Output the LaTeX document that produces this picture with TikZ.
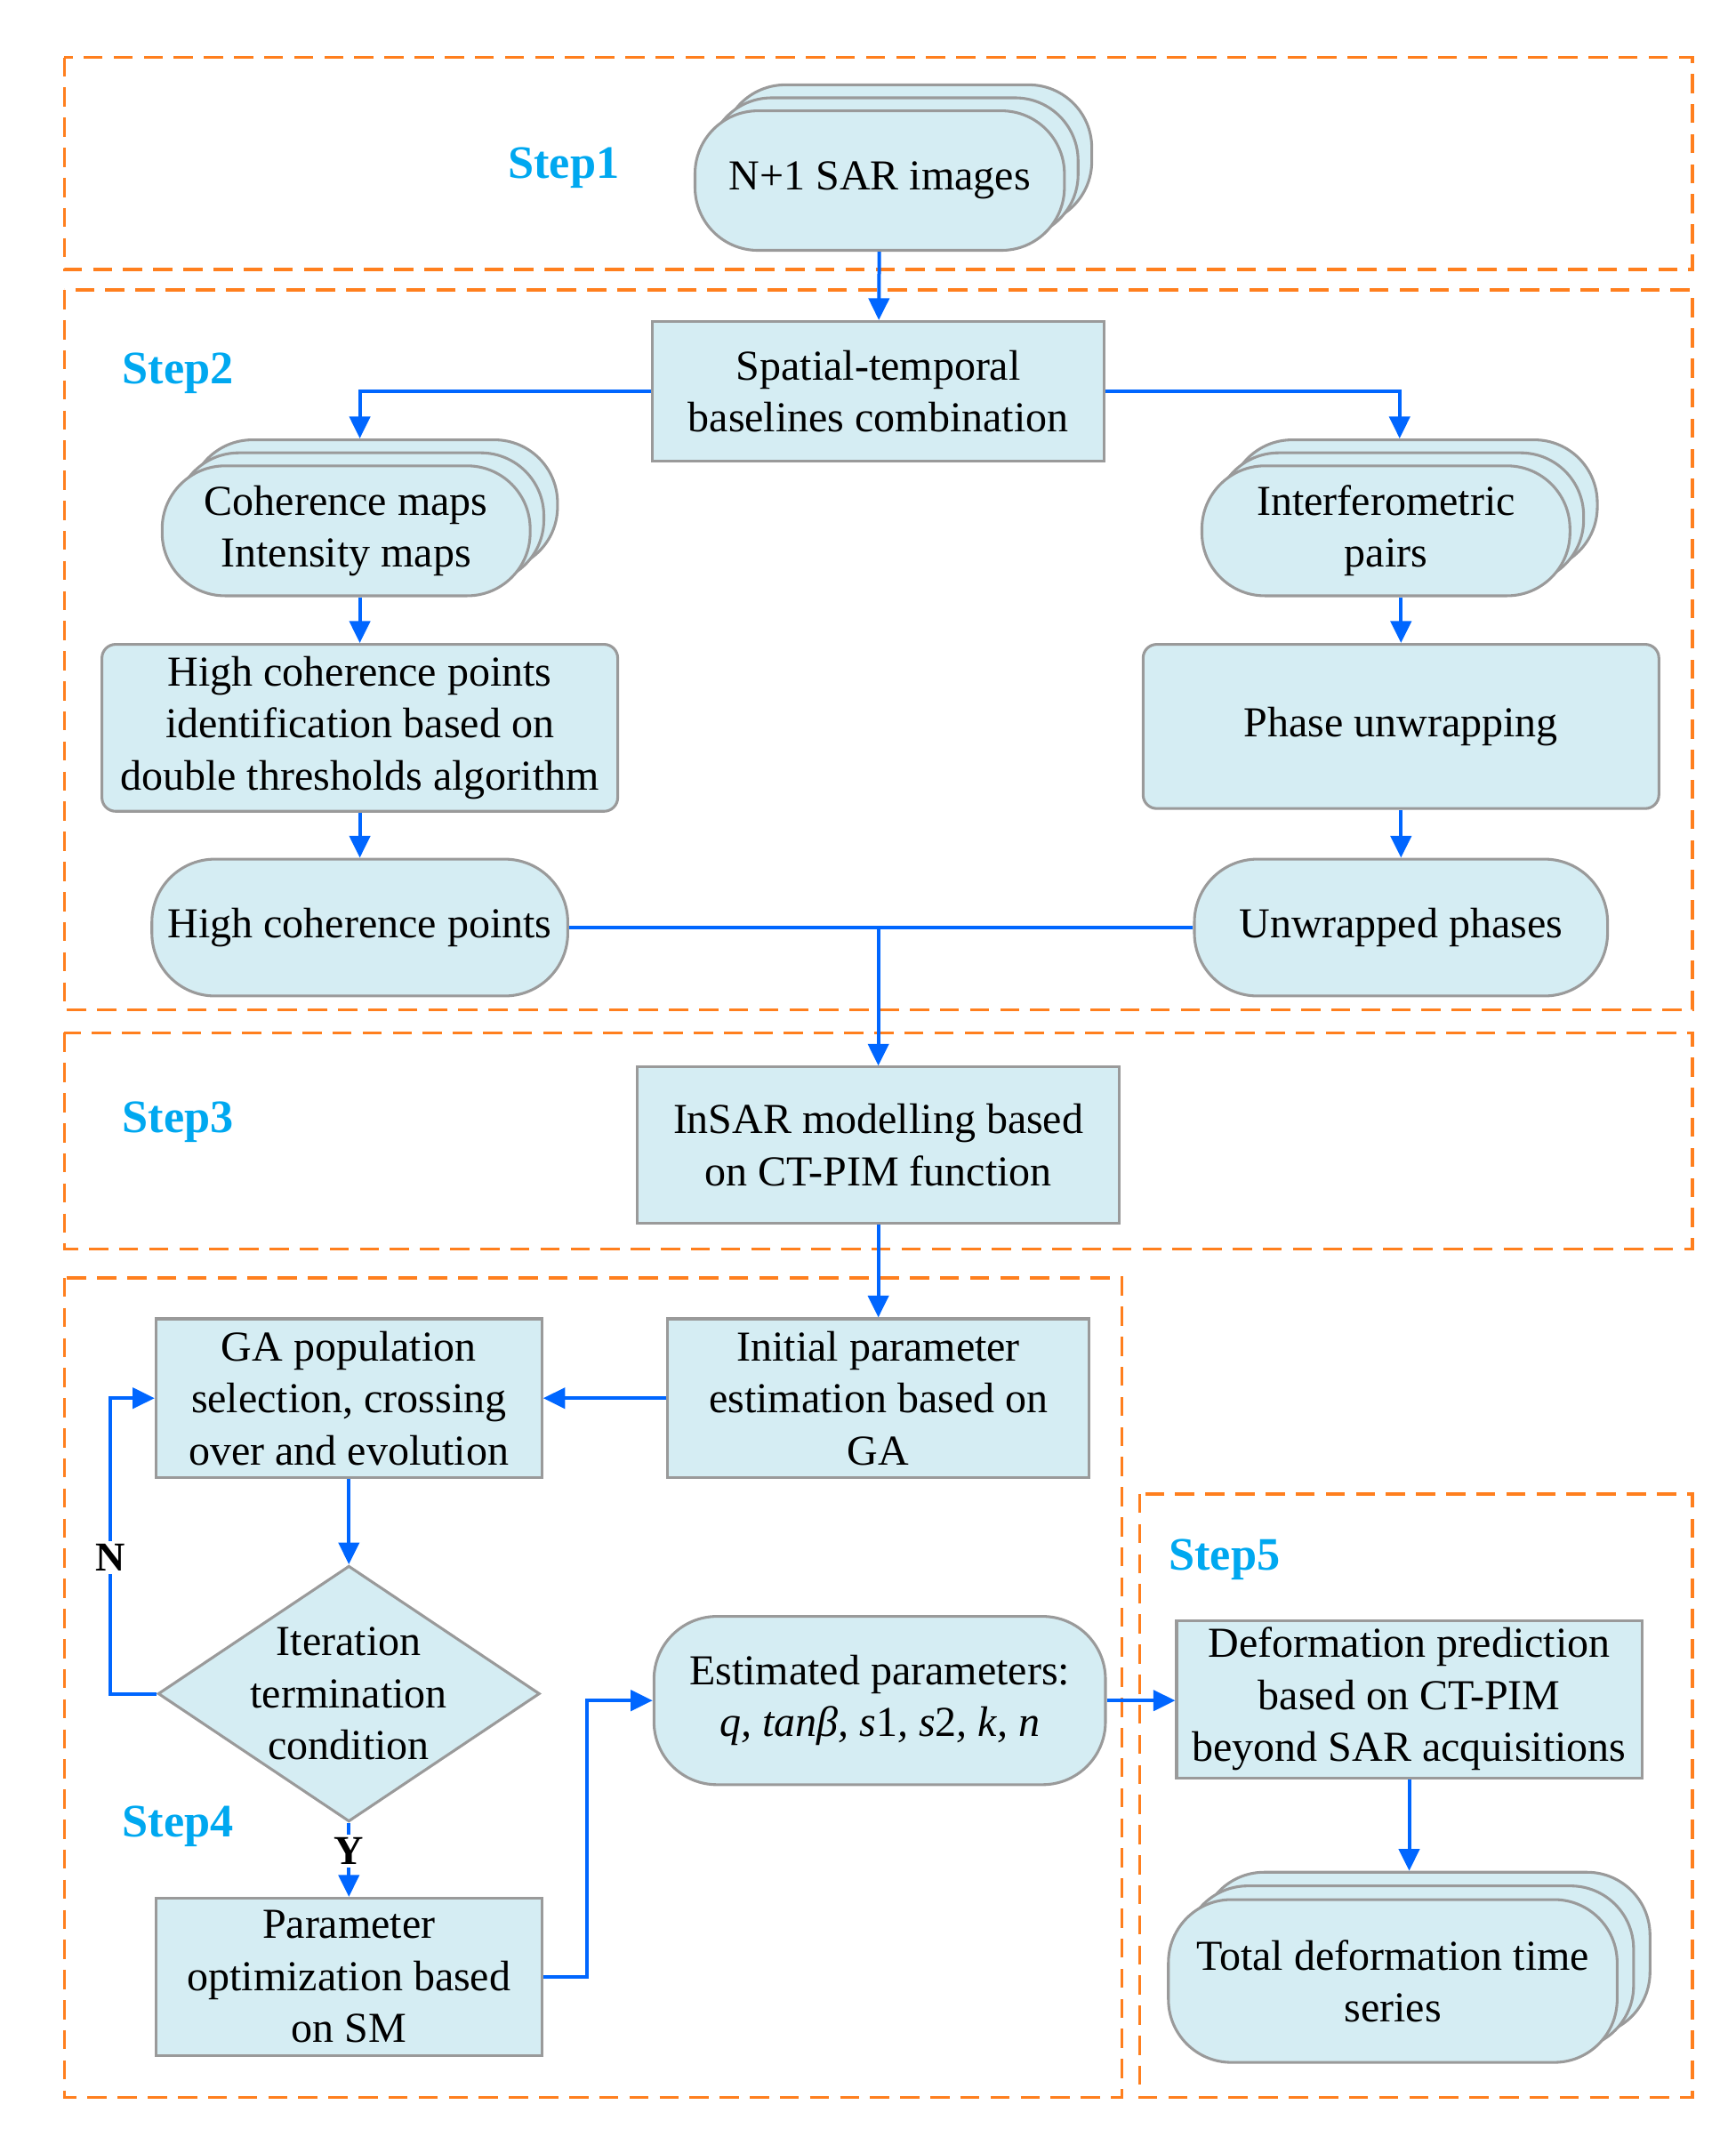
\documentclass[tikz,border=0pt]{standalone}
\usepackage{fontspec}
\setmainfont{Liberation Serif}
\usetikzlibrary{arrows.meta,shapes.geometric,shadows,calc}
\definecolor{boxfill}{HTML}{D5EDF3}
\definecolor{boxline}{HTML}{9A9A9A}
\definecolor{flowblue}{HTML}{0066FF}
\definecolor{stepblue}{HTML}{00A8F0}
\definecolor{dashorange}{HTML}{FF7F1E}
\begin{document}
\begin{tikzpicture}[
		x=0.5pt, y=-0.5pt,
		every node/.style={font=\fontsize{15.6}{19}\selectfont, align=center},
		box/.style={rectangle, draw=boxline, fill=boxfill, line width=1pt, inner sep=2pt},
		roundbox/.style={box, rounded corners=5pt},
		terminal/.style={box, rounded corners=23pt},
		stack/.style={terminal,
				copy shadow={shadow xshift=10pt, shadow yshift=9.5pt, draw=boxline, fill=boxfill},
				copy shadow={shadow xshift=5pt, shadow yshift=4.75pt, draw=boxline, fill=boxfill}},
		bigstack/.style={terminal,
				copy shadow={shadow xshift=12pt, shadow yshift=10pt, draw=boxline, fill=boxfill},
				copy shadow={shadow xshift=6pt, shadow yshift=5pt, draw=boxline, fill=boxfill}},
		decision/.style={diamond, draw=boxline, fill=boxfill, line width=1pt, inner sep=-2pt, shape aspect=1.5},
		flow/.style={draw=flowblue, line width=1.3pt, -{Triangle[length=8pt,width=7.5pt]}},
		link/.style={draw=flowblue, line width=1.3pt},
		steplabel/.style={font=\fontsize{17}{20}\selectfont\bfseries, text=stepblue},
		yesno/.style={font=\fontsize{15}{18}\selectfont\bfseries, fill=white, inner sep=1pt},
		frame/.style={draw=dashorange, line width=1.1pt, dash pattern=on 7pt off 4pt}
	]
	% step frames
	\draw[frame] (47,42) rectangle (1237,197);
	\draw[frame] (47,212) rectangle (1237,738);
	\draw[frame] (47,755) rectangle (1237,913);
	\draw[frame] (47,934) rectangle (820,1533);
	\draw[frame] (833,1092) rectangle (1237,1533);

	\node[steplabel] (step1) at (412,123) {Step1};
	\node[steplabel] (step2) at (130,273) {Step2};
	\node[steplabel] (step3) at (130,820) {Step3};
	\node[steplabel] (step4) at (130,1335) {Step4};
	\node[steplabel] (step5) at (895,1140) {Step5};

	% step 1 and 2
	\node[stack, minimum width=135pt, minimum height=51pt] (sar) at (643,132) {N+1 SAR images};
	\node[box, minimum width=165pt, minimum height=51pt] (stbase) at (642,286) {Spatial-temporal\\baselines combination};
	\node[stack, minimum width=134.5pt, minimum height=47.5pt] (cohmaps) at (253,388) {Coherence maps\\Intensity maps};
	\node[stack, minimum width=134.5pt, minimum height=47.5pt] (ifgpairs) at (1013,388) {Interferometric\\pairs};
	\node[roundbox, minimum width=188.5pt, minimum height=61pt] (hcident) at (263,532) {High coherence points\\identification based on\\double thresholds algorithm};
	\node[roundbox, minimum width=188.5pt, minimum height=60pt] (phunwrap) at (1024,531) {Phase unwrapping};
	\node[terminal, minimum width=152pt, minimum height=50pt] (hcpoints) at (263,678) {High coherence points};
	\node[terminal, minimum width=151pt, minimum height=50pt] (unwphase) at (1024,678) {Unwrapped phases};

	% step 3 and 4
	\node[box, minimum width=176pt, minimum height=57pt] (insar) at (642,837) {InSAR modelling based\\on CT-PIM function};
	\node[box, minimum width=154pt, minimum height=58pt] (initpar) at (642,1022) {Initial parameter\\estimation based on\\GA};
	\node[box, minimum width=141pt, minimum height=58pt] (gapop) at (255,1022) {GA population\\selection, crossing\\over and evolution};
	\node[decision, minimum width=139.5pt, minimum height=93.5pt] (iterterm) at (255,1238) {Iteration\\termination\\condition};
	\node[box, minimum width=141pt, minimum height=57.5pt] (paropt) at (255,1445) {Parameter\\optimization based\\on SM};
	\node[terminal, minimum width=165pt, minimum height=61.5pt] (estpar) at (643,1243) {Estimated parameters:\\\textit{q, tanβ, s}1\textit{, s}2\textit{, k, n}};

	% step 5
	\node[box, minimum width=170pt, minimum height=57.5pt] (defpred) at (1030,1242) {Deformation prediction\\based on CT-PIM\\beyond SAR acquisitions};
	\node[bigstack, minimum width=164pt, minimum height=59.5pt] (totdef) at (1018,1448) {Total deformation time\\series};

	\coordinate (cohtop) at ($(cohmaps.north)+(10,-19)$);
	\coordinate (ifgtop) at ($(ifgpairs.north)+(10,-19)$);
	\coordinate (tottop) at ($(totdef.north)+(0,-20)$);
	\coordinate (merge) at (insar.north |- hcpoints.east);

	\draw[flow] (sar) -- (stbase);
	\draw[flow] (stbase.west) -| (cohtop);
	\draw[flow] (stbase.east) -| (ifgtop);
	\draw[flow] (hcident.north |- cohmaps.south) -- (hcident.north);
	\draw[flow] (phunwrap.north |- ifgpairs.south) -- (phunwrap.north);
	\draw[flow] (hcident) -- (hcpoints);
	\draw[flow] (phunwrap) -- (unwphase);
	\draw[link] (hcpoints.east) -- (unwphase.west);
	\draw[flow] (merge) -- (insar.north);
	\draw[flow] (insar) -- (initpar);
	\draw[flow] (initpar) -- (gapop);
	\draw[flow] (gapop) -- (iterterm);
	\draw[flow] (iterterm.west) -- ++(-34,0) |- node[pos=0.23, yesno] {N} (gapop.west);
	\draw[flow] (iterterm.south) -- node[pos=0.38, yesno] {Y} (paropt.north);
	\draw[flow] (paropt.east) -- ++(32,0) |- (estpar.west);
	\draw[flow] (estpar.east) -- (defpred.west |- estpar.east);
	\draw[flow] (defpred.south) -- (defpred.south |- tottop);

	\pgfresetboundingbox
	\useasboundingbox (0,0) rectangle (1268.6,1567.9);
\end{tikzpicture}
\end{document}
